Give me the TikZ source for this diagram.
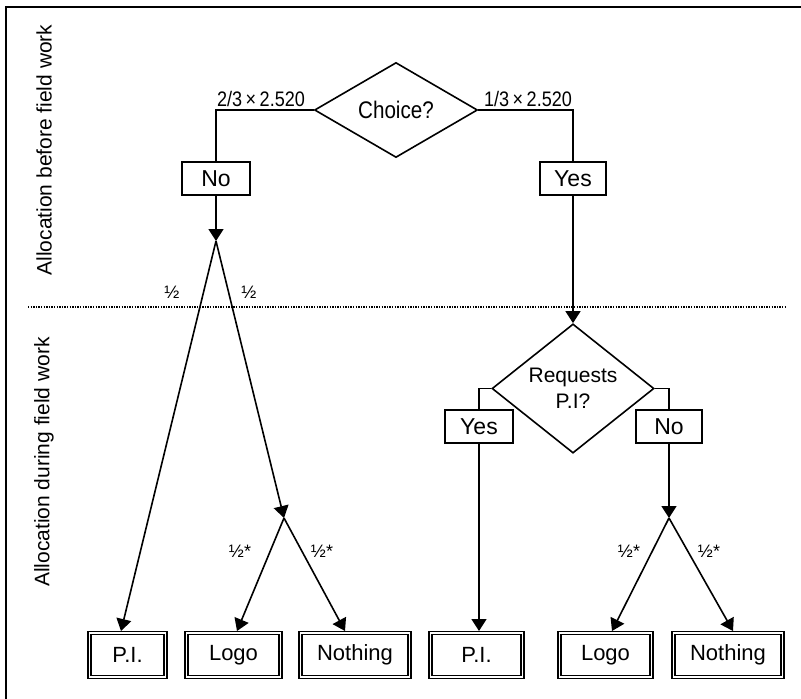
\documentclass[tikz,border=0pt]{standalone}
\usepackage{fontspec}
\setmainfont{Liberation Sans}
\newfontfamily\narrowfont[FakeStretch=0.86]{Liberation Sans}
\usetikzlibrary{shapes.geometric,arrows.meta}
\begin{document}
\begin{tikzpicture}[x=1pt,y=-1pt,line width=1.6pt,
  box/.style={draw,rectangle,minimum height=33pt,inner sep=0pt,font=\fontsize{23}{26}\selectfont},
  endbox/.style={draw,rectangle,double,double distance=1.6pt,line width=1.4pt,minimum height=44pt,inner sep=0pt,font=\fontsize{22}{26}\selectfont},
  dia/.style={draw,diamond,inner sep=0pt},
  arr/.style={-{Triangle[length=12pt,width=15pt]}},
  lbl/.style={font=\narrowfont\fontsize{21}{24}\selectfont},
  half/.style={font=\fontsize{18}{20}\selectfont},
  side/.style={rotate=90,font=\fontsize{21}{24}\selectfont}]
\useasboundingbox (0,0) rectangle (801,699);
% frame
\draw[line width=1.2pt] (6,699) -- (6,7) -- (801,7);
% divider
\draw[line width=1.5pt,dash pattern=on 1.3pt off 1.3pt] (28,307) -- (786,307);
% side labels
\node[side] (s1) at (44,150) {Allocation before field work};
\node[side] (s2) at (44,462) {Allocation during field work};
% top decision
\node[dia,minimum width=163pt,minimum height=95pt,font=\narrowfont\fontsize{24}{28}\selectfont] (choice) at (396,110) {Choice?};
\node[lbl] (l1) at (261,99) {2/3\,×\,2.520};
\node[lbl] (l2) at (528,99) {1/3\,×\,2.520};
\node[box,minimum width=68pt] (no1) at (216,178.5) {No};
\node[box,minimum width=66pt] (yes1) at (573,178.5) {Yes};
% second decision
\node[dia,minimum width=162pt,minimum height=97pt,align=center,font=\fontsize{21}{26}\selectfont] (req) at (573,388.5) {Requests\\P.I?};
\node[box,minimum width=68pt] (yes2) at (479,426.5) {Yes};
\node[box,minimum width=66pt] (no2) at (669,426.5) {No};
% end boxes
\node[endbox,minimum width=76pt] (e1) at (127.5,655) {P.I.};
\node[endbox,minimum width=94pt] (e2) at (233.5,655) {Logo};
\node[endbox,minimum width=109pt] (e3) at (355,655) {Nothing};
\node[endbox,minimum width=92pt] (e4) at (476.5,655) {P.I.};
\node[endbox,minimum width=92pt] (e5) at (605.5,655) {Logo};
\node[endbox,minimum width=109pt] (e6) at (728,655) {Nothing};
% junctions and arrow targets
\coordinate (j1) at (216,241);
\coordinate (j2) at (284,518);
\coordinate (j3) at (669,518);
\coordinate (t1) at (121,631);
\coordinate (t2) at (237,631);
\coordinate (t3) at (345,631);
\coordinate (t4) at (479,631);
\coordinate (t5) at (612,631);
\coordinate (t6) at (733,631);
% connectors
\draw (choice.west) -| (no1.north);
\draw (choice.east) -| (yes1.north);
\draw[arr] (no1.south) -- (j1);
\draw[arr] (j1) -- (t1);
\draw[arr] (j1) -- (j2);
\draw[arr] (j2) -- (t2);
\draw[arr] (j2) -- (t3);
\draw[arr] (yes1.south) -- (req.north);
\draw (req.west) -| (yes2.north);
\draw (req.east) -| (no2.north);
\draw[arr] (yes2.south) -- (t4);
\draw[arr] (no2.south) -- (j3);
\draw[arr] (j3) -- (t5);
\draw[arr] (j3) -- (t6);
% fractions
\node[half] (h1) at (172,292) {½};
\node[half] (h2) at (249,292) {½};
\node[half] (h3) at (240,551) {½*};
\node[half] (h4) at (322,551) {½*};
\node[half] (h5) at (629,551) {½*};
\node[half] (h6) at (709,551) {½*};
\end{tikzpicture}
\end{document}
